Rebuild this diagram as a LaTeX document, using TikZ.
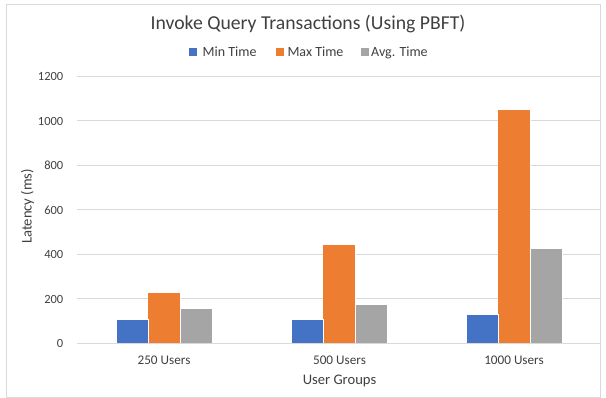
\documentclass[tikz,border=0pt]{standalone}
\usepackage{fontspec}
\setmainfont{Carlito}
\definecolor{minc}{HTML}{4472C4}
\definecolor{maxc}{HTML}{ED7D31}
\definecolor{avgc}{HTML}{A5A5A5}
\definecolor{gridc}{HTML}{D9D9D9}
\definecolor{framec}{HTML}{D9D9D9}
\definecolor{txtc}{HTML}{404040}
\begin{document}
\begin{tikzpicture}[x=1pt,y=-1pt,
  bar/.style={draw=white, line width=0.6pt},
  ticklab/.style={anchor=base east, text=txtc, font=\fontsize{12.5}{14}\selectfont, inner sep=0pt},
  catlab/.style={anchor=base, text=txtc, font=\fontsize{13.2}{15}\selectfont, inner sep=0pt},
  axtitle/.style={anchor=base, text=txtc, font=\fontsize{14.6}{17}\selectfont, inner sep=0pt},
  legtext/.style={anchor=base west, text=txtc, font=\fontsize{14}{16}\selectfont, inner sep=0pt},
  legkey/.style={minimum size=8pt, inner sep=0pt, draw=none}]
\useasboundingbox (0,0) rectangle (606,398);
\fill[white] (0,0) rectangle (606,398);
% chart frame
\draw[framec, line width=0.75pt] (6.5,4.5) rectangle (600.5,397.5);
% horizontal gridlines, 0..1200 step 200
\foreach \v in {200,400,...,1200}
  \draw[gridc, line width=0.75pt] (77,{343-0.2225*\v}) -- (601,{343-0.2225*\v});
% value axis labels
\foreach \v in {0,200,...,1200}
  \node[ticklab] (tick\v) at (63.5,{348-0.2225*\v}) {\v};
% bars: centre / min / max / avg
\foreach \c/\a/\b/\d in {164/108/228/154, 339/107/442/174, 514/129/1050/427}{
  \fill[minc] (\c-48,343) rectangle (\c-16,{343-0.2225*\a});
  \fill[maxc] (\c-16,343) rectangle (\c+16,{343-0.2225*\b});
  \fill[avgc] (\c+16,343) rectangle (\c+48,{343-0.2225*\d});
  \draw[bar] (\c-48,343) -- (\c-48,{343-0.2225*\a}) -- (\c-16,{343-0.2225*\a}) -- (\c-16,343);
  \draw[bar] (\c-16,{343-0.2225*\b}) -- (\c+16,{343-0.2225*\b}) -- (\c+16,343);
  \draw[bar] (\c+16,{343-0.2225*\d}) -- (\c+48,{343-0.2225*\d}) -- (\c+48,343);
}
% category axis line
\draw[gridc, line width=0.75pt] (77,343) -- (601,343);
% category labels
\node[catlab] (cat1) at (164,365) {250 Users};
\node[catlab] (cat2) at (339.5,365) {500 Users};
\node[catlab] (cat3) at (514,365) {1000 Users};
% axis titles
\node[axtitle] (xtitle) at (339.5,384.5) {User Groups};
\node[axtitle, rotate=90] (ytitle) at (31.5,206.5) {Latency (ms)};
% chart title
\node[anchor=base, text=txtc, font=\fontsize{19.7}{23}\selectfont, inner sep=0pt] (title) at (308,30) {Invoke Query Transactions (Using PBFT)};
% legend
\node[legkey, fill=minc] (kmin) at (193.3,51.7) {};
\node[legtext] (lmin) at (202.5,56.5) {Min Time};
\node[legkey, fill=maxc] (kmax) at (280,51.7) {};
\node[legtext] (lmax) at (287.3,56.5) {Max Time};
\node[legkey, fill=avgc] (kavg) at (364.7,51.7) {};
\node[legtext] (lavg) at (371,56.5) {Avg. Time};
\end{tikzpicture}
\end{document}
